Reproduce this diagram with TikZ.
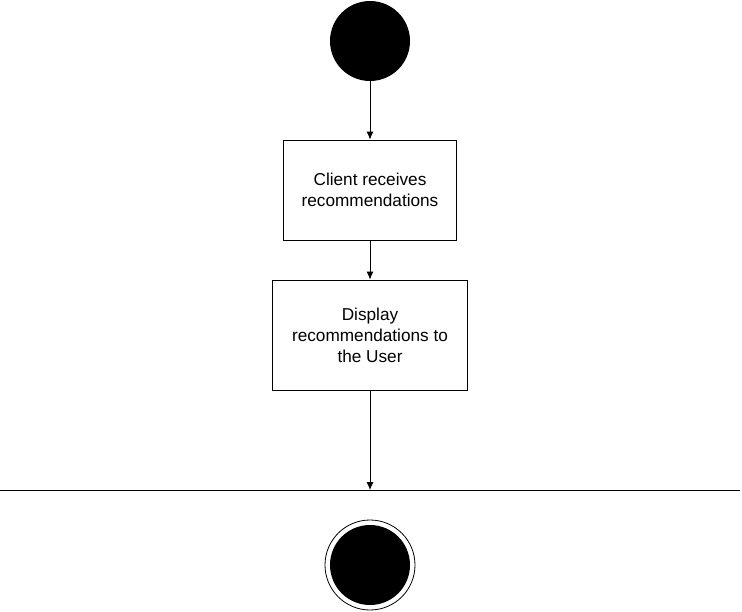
\documentclass[tikz,border=0pt]{standalone}
\usepackage{fontspec}
\setmainfont{Liberation Sans}
\usetikzlibrary{arrows.meta}
\tikzset{
  act/.style={draw,line width=0.8pt,fill=white,inner sep=0pt,align=center,
    font=\fontsize{17.2}{21}\selectfont},
  flow/.style={-{Latex[length=8pt,width=7pt]},line width=0.9pt}
}
\begin{document}
\begin{tikzpicture}[x=1pt,y=-1pt]
\useasboundingbox (0,0) rectangle (742,611);
\def\cx{370}
% start
\fill (\cx,41) circle[radius=40];
\coordinate (start) at (\cx,81);
% actions
\node[act,minimum width=173,minimum height=100] (recv) at (\cx,190)
  {Client receives\\recommendations};
\node[act,minimum width=195,minimum height=110] (show) at (\cx,335)
  {Display\\recommendations to\\the User};
% bar
\coordinate (barL) at (0,490);
\coordinate (barR) at (740,490);
\coordinate (bar) at (\cx,490);
\draw[line width=1pt] (barL) -- (barR);
% end
\draw[line width=0.8pt] (\cx,565) circle[radius=45];
\fill (\cx,565) circle[radius=40];
\draw[flow] (start) -- (recv);
\draw[flow] (recv) -- (show);
\draw[flow] (show) -- (bar);
\end{tikzpicture}
\end{document}
